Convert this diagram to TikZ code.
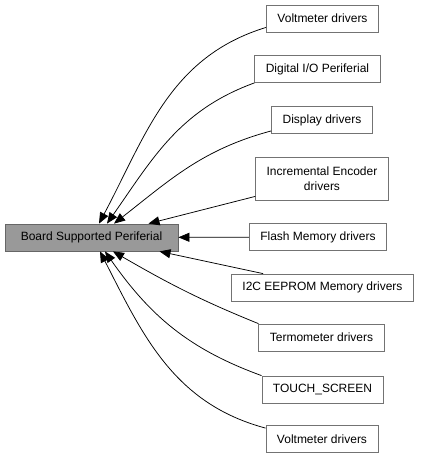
\documentclass[tikz,border=0pt]{standalone}
\usepackage{fontspec}
\setmainfont{Liberation Sans}
\usetikzlibrary{arrows.meta}

\begin{document}
\begin{tikzpicture}[x=1pt, y=-1pt,
    grp/.style={rectangle, draw=black!55, fill=white, line width=0.8pt, inner xsep=11pt, minimum height=27pt, align=center, font=\fontsize{12}{14.5}\selectfont},
    mainbox/.style={grp, fill=black!40, draw=black!60, minimum width=173pt},
    >={Triangle[length=11pt,width=9pt]}, edge/.style={->, line width=0.75pt}]
            \useasboundingbox (0,0) rectangle (424,459);
            \node[mainbox] (main) at (91.5,237.5) {Board Supported Periferial};
            \node[grp] (volt1) at (322.5,18.5) {Voltmeter drivers};
            \node[grp] (dio) at (317.5,69) {Digital I/O Periferial};
            \node[grp] (disp) at (322,120) {Display drivers};
            \node[grp, minimum height=43pt] (enc) at (322,178.5) {Incremental Encoder\\drivers};
            \node[grp] (flash) at (318,237) {Flash Memory drivers};
            \node[grp] (i2c) at (322.5,287.5) {I2C EEPROM Memory drivers};
            \node[grp] (termo) at (321.5,337.5) {Termometer drivers};
            \node[grp] (touch) at (322.5,389.5) {TOUCH\_SCREEN};
            \node[grp] (volt2) at (322,439) {Voltmeter drivers};
            \draw[edge] ([yshift=5pt]volt1.south west) to[out=197, in=62] ([xshift=7.5pt]main.north);
            \draw[edge] (dio.south west) to[out=200, in=55] ([xshift=15.5pt]main.north);
            \draw[edge] ([yshift=3pt]disp.south west) to[out=195, in=38] ([xshift=22.5pt]main.north);
            \draw[edge] ([yshift=4pt]enc.south west) -- ([xshift=57pt]main.north);
            \draw[edge] (flash) -- (main);
            \draw[edge] ([xshift=32pt]i2c.north west) -- ([xshift=68pt]main.south);
            \draw[edge] (termo.north west) to[out=158, in=-30] ([xshift=21.5pt]main.south);
            \draw[edge] (touch.north west) to[out=160, in=-55] ([xshift=13.5pt]main.south);
            \draw[edge] ([yshift=-3pt]volt2.north west) to[out=165, in=-63] ([xshift=8.5pt]main.south);
        \end{tikzpicture}
\end{document}
